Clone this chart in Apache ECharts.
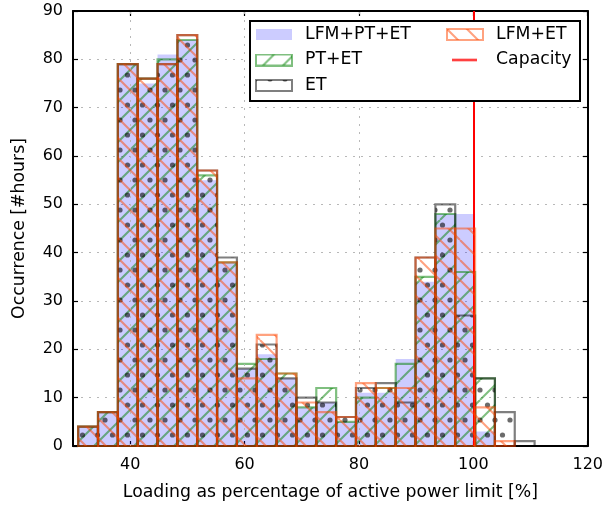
<!DOCTYPE html>
<html>
<head>
<meta charset="utf-8">
<script src="https://cdn.jsdelivr.net/npm/echarts@6/dist/echarts.min.js"></script>
<style>
  html, body { margin: 0; padding: 0; background: #fff; }
  #chart { width: 606px; height: 506px; }
</style>
</head>
<body>
<div id="chart"></div>
<script>
// histogram bins (same bins for every series)
var binStart = 30.9;
var binWidth = 3.47;

// occurrence [#hours] per bin
var lfmPtEt = [4, 7, 79, 75, 81, 84, 55, 38, 16, 19, 14, 8, 9, 5, 11, 11, 18, 34, 48, 48, 3, 0, 0];
var ptEt    = [4, 7, 79, 76, 80, 84, 56, 38, 17, 18, 15, 8, 12, 5, 10, 12, 17, 35, 48, 36, 14, 0, 0];
var et      = [4, 7, 79, 76, 79, 85, 57, 39, 16, 21, 14, 10, 9, 6, 12, 13, 9, 39, 50, 27, 14, 7, 1];
var lfmEt   = [4, 7, 79, 76, 79, 85, 57, 38, 14, 23, 15, 9, 7, 6, 13, 12, 12, 39, 45, 45, 8, 1, 0];

var capacity = 100;
var xTicks = [40, 60, 80, 100, 120];
var xGrid = [40, 60, 80, 100];

var FONT = 'DejaVu Sans';

// hatch tiles, roughly like matplotlib's '/', '\\' and '.'
function hatchTile(kind, color) {
  var s = kind === 'dots' ? 15 : 20;
  var c = document.createElement('canvas');
  c.width = s;
  c.height = kind === 'dots' ? 2 * s : s;
  var ctx = c.getContext('2d');
  if (kind === 'dots') {
    ctx.fillStyle = color;
    [[0, 0], [s, 0], [0, 2 * s], [s, 2 * s], [s / 2, s]].forEach(function (p) {
      ctx.beginPath();
      ctx.arc(p[0], p[1], 2.6, 0, Math.PI * 2);
      ctx.fill();
    });
  } else {
    ctx.strokeStyle = color;
    ctx.lineWidth = 2;
    for (var k = -1; k <= 1; k++) {
      ctx.beginPath();
      if (kind === 'fwd') {
        ctx.moveTo(k * s, s);
        ctx.lineTo(k * s + s, 0);
      } else {
        ctx.moveTo(k * s, 0);
        ctx.lineTo(k * s + s, s);
      }
      ctx.stroke();
    }
  }
  return c;
}

var cBlue = 'rgba(0,0,255,0.2)';
var cGreen = 'rgba(0,128,0,0.5)';
var cGray = 'rgba(0,0,0,0.5)';
var cOrange = 'rgba(255,69,0,0.5)';

var styles = {
  'LFM+PT+ET': { fill: cBlue, stroke: null },
  'PT+ET': { fill: hatchTile('fwd', cGreen), stroke: cGreen },
  'ET': { fill: hatchTile('dots', 'rgba(0,0,0,0.58)'), stroke: cGray },
  'LFM+ET': { fill: hatchTile('back', cOrange), stroke: cOrange }
};

function legendIcon(name) {
  var c = document.createElement('canvas');
  c.width = 45; c.height = 13;
  var ctx = c.getContext('2d');
  if (name === 'Capacity') {
    ctx.strokeStyle = 'red';
    ctx.lineWidth = 2;
    ctx.beginPath(); ctx.moveTo(6, 6.5); ctx.lineTo(31, 6.5); ctx.stroke();
    return 'image://' + c.toDataURL();
  }
  var st = styles[name];
  if (typeof st.fill === 'string') {
    ctx.fillStyle = st.fill;
  } else {
    ctx.fillStyle = ctx.createPattern(st.fill, 'repeat');
  }
  ctx.fillRect(1, 1, 36, 11);
  if (st.stroke) {
    ctx.strokeStyle = st.stroke;
    ctx.lineWidth = 2;
    ctx.strokeRect(1, 1, 36, 11);
  }
  return 'image://' + c.toDataURL();
}

function toBins(values) {
  return values.map(function (v, i) {
    return [binStart + i * binWidth, binStart + (i + 1) * binWidth, v];
  });
}

function histSeries(name, values, z) {
  var st = styles[name];
  var fill = typeof st.fill === 'string' ? st.fill : { image: st.fill, repeat: 'repeat' };
  return {
    name: name,
    type: 'custom',
    z: z,
    silent: true,
    encode: { x: [0, 1], y: 2 },
    itemStyle: { color: st.stroke || st.fill },
    data: toBins(values),
    renderItem: function (params, api) {
      var v = api.value(2);
      if (!v) return null;
      var p0 = api.coord([api.value(0), 0]);
      var p1 = api.coord([api.value(1), v]);
      return {
        type: 'rect',
        shape: { x: p0[0], y: p1[1], width: p1[0] - p0[0], height: p0[1] - p1[1] },
        style: {
          fill: fill,
          stroke: st.stroke || null,
          lineWidth: st.stroke ? 2.2 : 0
        }
      };
    }
  };
}

var chart = echarts.init(document.getElementById('chart'), null, { renderer: 'canvas' });

var tickStyle = { color: '#000', width: 1.2 };
var legendText = { fontFamily: FONT, fontSize: 17.3, color: '#000', lineHeight: 17 };
var titleText = { fontFamily: FONT, fontSize: 17.3, color: '#000' };

chart.setOption({
  animation: false,
  backgroundColor: '#fff',
  grid: { left: 73, right: 18, top: 11, bottom: 60 },
  xAxis: [{
    type: 'value', position: 'bottom', min: 30, max: 120,
    name: 'Loading as percentage of active power limit [%]',
    nameLocation: 'middle', nameGap: 38,
    nameTextStyle: titleText,
    axisLine: { show: true, onZero: false, lineStyle: { color: '#000', width: 2 } },
    axisTick: { show: true, inside: true, length: 5, customValues: xTicks, lineStyle: tickStyle },
    axisLabel: { customValues: xTicks, fontFamily: FONT, fontSize: 16, color: '#000', margin: 11 },
    splitLine: { show: false }
  }, {
    type: 'value', position: 'top', min: 30, max: 120,
    axisLine: { show: true, onZero: false, lineStyle: { color: '#000', width: 2 } },
    axisTick: { show: true, inside: true, length: 5, customValues: xTicks, lineStyle: tickStyle },
    axisLabel: { show: false },
    splitLine: { show: false }
  }],
  yAxis: [{
    type: 'value', position: 'left', min: 0, max: 90, interval: 10,
    name: 'Occurrence [#hours]',
    nameLocation: 'middle', nameGap: 45,
    nameTextStyle: titleText,
    axisLine: { show: true, onZero: false, lineStyle: { color: '#000', width: 2 } },
    axisTick: { show: true, inside: true, length: 5, lineStyle: tickStyle },
    axisLabel: { fontFamily: FONT, fontSize: 16, color: '#000', margin: 10 },
    splitLine: { show: true, lineStyle: { color: '#b8b8b8', width: 1, type: [2, 6] } }
  }, {
    type: 'value', position: 'right', min: 0, max: 90, interval: 10,
    axisLine: { show: true, onZero: false, lineStyle: { color: '#000', width: 2 } },
    axisTick: { show: true, inside: true, length: 5, lineStyle: tickStyle },
    axisLabel: { show: false },
    splitLine: { show: false }
  }],
  graphic: [{
    type: 'rect', left: 249, top: 20, z: 50,
    shape: { width: 330, height: 80 },
    style: { fill: '#fff', stroke: '#000', lineWidth: 2 }
  }],
  legend: [{
    orient: 'vertical', left: 255, top: 26, padding: 0, z: 60,
    itemWidth: 45, itemHeight: 13, itemGap: 8.5,
    textStyle: legendText,
    data: ['LFM+PT+ET', 'PT+ET', 'ET'].map(function (n) { return { name: n, icon: legendIcon(n) }; })
  }, {
    orient: 'vertical', left: 446, top: 26, padding: 0, z: 60,
    itemWidth: 45, itemHeight: 13, itemGap: 8.5,
    textStyle: legendText,
    data: ['LFM+ET', 'Capacity'].map(function (n) { return { name: n, icon: legendIcon(n) }; })
  }],
  series: [
    {
      name: 'grid', type: 'line', data: [], z: 1, silent: true,
      markLine: {
        silent: true, symbol: 'none', label: { show: false },
        lineStyle: { color: '#b8b8b8', width: 1, type: [2, 6] },
        data: xGrid.map(function (v) { return { xAxis: v }; })
      }
    },
    histSeries('LFM+PT+ET', lfmPtEt, 2),
    histSeries('PT+ET', ptEt, 3),
    histSeries('ET', et, 4),
    histSeries('LFM+ET', lfmEt, 5),
    {
      name: 'Capacity', type: 'line', data: [], z: 10, silent: true,
      itemStyle: { color: 'red' },
      markLine: {
        silent: true, symbol: 'none', label: { show: false },
        lineStyle: { color: 'red', width: 2, type: 'solid' },
        data: [{ xAxis: capacity }]
      }
    }
  ]
});
</script>
</body>
</html>
